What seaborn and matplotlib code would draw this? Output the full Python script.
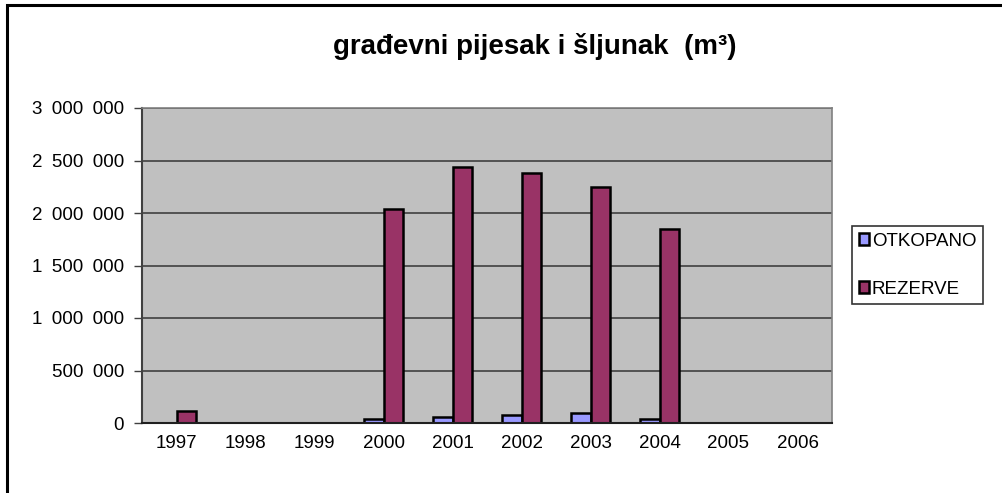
import numpy as np
import pandas as pd
import matplotlib
matplotlib.use("Agg")
import matplotlib.pyplot as plt
import seaborn as sns
from matplotlib.patches import Rectangle
from matplotlib.ticker import FuncFormatter, FixedLocator

# data
years = ["1997", "1998", "1999", "2000", "2001", "2002", "2003", "2004", "2005", "2006"]
otkopano = [np.nan, np.nan, np.nan, 38000, 61000, 80000, 99000, 38000, np.nan, np.nan]
rezerve = [119000, np.nan, np.nan, 2038000, 2442000, 2385000, 2250000, 1846000, np.nan, np.nan]
series_names = ["OTKOPANO", "REZERVE"]
colors = ["#9999FF", "#993366"]

df = pd.DataFrame({
    "year": years * 2,
    "value": otkopano + rezerve,
    "serie": [series_names[0]] * len(years) + [series_names[1]] * len(years),
})

sns.set_style("white")
plt.rcParams["font.family"] = ["Liberation Sans", "DejaVu Sans"]
plt.rcParams["text.color"] = "black"
plt.rcParams["xtick.labelcolor"] = "black"
plt.rcParams["ytick.labelcolor"] = "black"

fig = plt.figure(figsize=(10.02, 4.93), dpi=100)
ax = fig.add_axes([142 / 1002, 1 - 423 / 493, (832 - 142) / 1002, (423 - 108) / 493])
ax.set_facecolor("#C0C0C0")

sns.barplot(data=df, x="year", y="value", hue="serie", order=years,
            hue_order=series_names, palette=colors, width=0.571,
            edgecolor="black", linewidth=1.8, saturation=1, ax=ax, legend=True)

ax.set_ylim(0, 3000000)
ax.set_xlim(-0.5, len(years) - 0.5)
ax.set_yticks(np.arange(0, 3000001, 500000))
ax.yaxis.set_major_formatter(FuncFormatter(lambda v, p: f"{int(v):,}".replace(",", "\u2002")))
ax.grid(axis="y", color="#404040", linewidth=1.2)
ax.set_axisbelow(True)
ax.set_xlabel("")
ax.set_ylabel("")

# tick marks between categories, labels centered
ax.xaxis.set_minor_locator(FixedLocator(np.arange(-0.5, len(years), 1)))
ax.tick_params(axis="x", which="major", length=0, pad=9, labelsize=13.5, labelcolor="black")
ax.tick_params(axis="x", which="minor", length=5, width=1, color="#404040", direction="out")
ax.tick_params(axis="y", length=6, width=1, color="#404040", pad=7, labelsize=13.5,
               labelcolor="black", direction="out", left=True)

for side in ["top", "right"]:
    ax.spines[side].set_color("#808080")
    ax.spines[side].set_linewidth(1.2)
ax.spines["left"].set_color("#404040")
ax.spines["bottom"].set_color("#202020")
ax.spines["left"].set_linewidth(1.5)
ax.spines["bottom"].set_linewidth(1.5)

leg = ax.legend(loc="upper left", bbox_to_anchor=(852 / 1002, 1 - 226 / 493),
                bbox_transform=fig.transFigure, frameon=True, fancybox=False,
                fontsize=13.5, handlelength=0.55, handleheight=0.55, handletextpad=0.15,
                borderpad=0.35, labelspacing=1.65, borderaxespad=0)
leg.get_frame().set_edgecolor("black")
leg.get_frame().set_linewidth(1.2)
for t in leg.get_texts():
    t.set_color("black")

fig.text(535 / 1002, 1 - 47 / 493, "građevni pijesak i šljunak  (m³)",
         ha="center", va="center", fontsize=20, fontweight="bold", color="black")

# outer chart border (runs off right and bottom)
fig.patches.append(Rectangle((7 / 1002, -0.2), 1.2, 1.2 - 5 / 493, transform=fig.transFigure,
                             fill=False, edgecolor="black", linewidth=2.2))

fig.savefig("out.png", dpi=100)
plt.close(fig)
